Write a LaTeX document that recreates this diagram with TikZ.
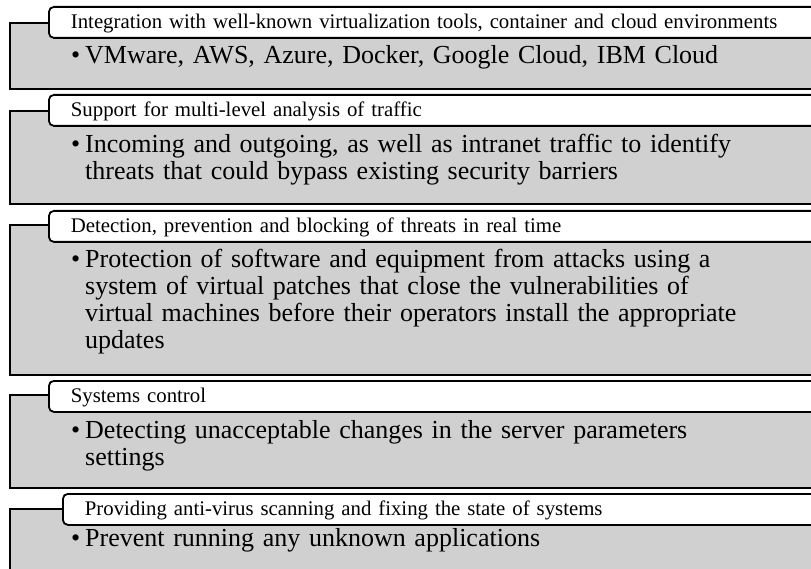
\documentclass[tikz,border=0pt]{standalone}
\usepackage{fontspec}
\setmainfont{Liberation Serif}
\usepackage{xcolor}
\usetikzlibrary{positioning}
\definecolor{panelgray}{RGB}{208,208,208}
\newcommand{\pitem}[1]{\hangindent=14pt\hangafter=1\makebox[14pt][l]{\textbullet}#1\par}

\begin{document}
\begin{tikzpicture}[x=1pt, y=-1pt, panel/.style={draw=black,line width=1.8pt,fill=panelgray,anchor=north west,minimum width=830pt,inner sep=0pt}, tab/.style={draw=black,line width=1.8pt,fill=white,rounded corners=5pt,anchor=north west,minimum height=31pt,text width=760pt,align=left,inner xsep=22pt,inner ysep=0pt,text height=13pt,text depth=0pt,font=\fontsize{20.8}{24}\selectfont}, point/.style={anchor=base west,inner sep=0pt,text width=740pt,align=left,font=\fontsize{26}{27}\selectfont}]
\clip (0,0) rectangle (811,569);
\begin{scope}
\node[panel, minimum height=66pt] (panel1) at (9,22) {};
\node[tab] (tab1) at (48,6) {Integration with well-known virtualization tools, container and cloud environments};
\node[point] (item1) at (71,64) {\pitem{VMware, AWS, Azure, Docker, Google Cloud, IBM Cloud}};
\end{scope}
\begin{scope}
\node[panel, minimum height=93pt] (panel2) at (9,110) {};
\node[tab] (tab2) at (48,94) {Support for multi-level analysis of traffic};
\node[point] (item2) at (71,153) {\pitem{Incoming and outgoing, as well as intranet traffic to identify\newline threats that could bypass existing security barriers}};
\end{scope}
\begin{scope}
\node[panel, minimum height=150pt] (panel3) at (9,224) {};
\node[tab] (tab3) at (48,210) {Detection, prevention and blocking of threats in real time};
\node[point] (item3) at (71,268) {\pitem{Protection of software and equipment from attacks using a\newline system of virtual patches that close the vulnerabilities of\newline virtual machines before their operators install the appropriate\newline updates}};
\end{scope}
\begin{scope}
\node[panel, minimum height=93pt] (panel4) at (9,394) {};
\node[tab] (tab4) at (48,380) {Systems control};
\node[point] (item4) at (71,438) {\pitem{Detecting unacceptable changes in the server parameters\newline settings}};
\end{scope}
\begin{scope}
\node[panel, minimum height=100pt] (panel5) at (9,508) {};
\node[tab] (tab5) at (62,493) {Providing anti-virus scanning and fixing the state of systems};
\node[point] (item5) at (71,546) {\pitem{Prevent running any unknown applications}};
\end{scope}
\end{tikzpicture}
\end{document}
